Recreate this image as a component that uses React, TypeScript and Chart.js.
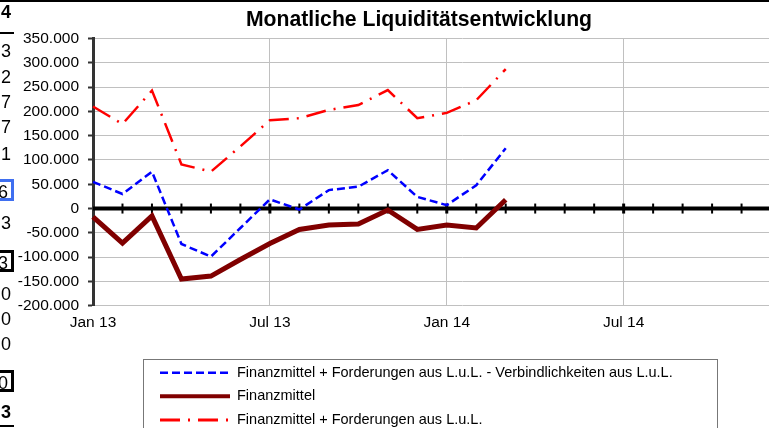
import React, { useEffect, useRef } from 'react';
import { Chart, registerables } from 'chart.js';

Chart.register(...registerables);

const FONT = '"Liberation Sans", Arial, Helvetica, sans-serif';

const TITLE = 'Monatliche Liquiditätsentwicklung';

const months = [
  'Jan 13', 'Feb 13', 'Mrz 13', 'Apr 13', 'Mai 13', 'Jun 13',
  'Jul 13', 'Aug 13', 'Sep 13', 'Okt 13', 'Nov 13', 'Dez 13',
  'Jan 14', 'Feb 14', 'Mrz 14', 'Apr 14', 'Mai 14', 'Jun 14',
  'Jul 14', 'Aug 14', 'Sep 14', 'Okt 14', 'Nov 14', 'Dez 14',
  'Jan 15', 'Feb 15',
];

const seriesLabels = [
  'Finanzmittel + Forderungen aus L.u.L. - Verbindlichkeiten aus L.u.L.',
  'Finanzmittel',
  'Finanzmittel + Forderungen aus L.u.L.',
];

const nettoValues = [55000, 30000, 76000, -73000, -99000, -40000, 19000, -2000, 38000, 45000, 79000, 24000, 7000, 48000, 124000];
const finanzValues = [-17000, -71000, -15000, -145000, -139000, -105000, -72000, -43000, -34000, -32000, -3000, -43000, -34000, -40000, 18000];
const forderValues = [210000, 174000, 243000, 91000, 76000, 128000, 182000, 186000, 203000, 213000, 244000, 186000, 197000, 223000, 287000];

const yMin = -200000;
const yMax = 350000;
const yStep = 50000;

const sideDigits = [
  { t: '4', y: 13, bold: true },
  { t: '3', y: 52 },
  { t: '2', y: 78 },
  { t: '7', y: 103 },
  { t: '7', y: 128 },
  { t: '1', y: 155 },
  { t: '6', y: 190, box: '#3f6ff0' },
  { t: '3', y: 224 },
  { t: '3', y: 261, box: '#000' },
  { t: '0', y: 295 },
  { t: '0', y: 320 },
  { t: '0', y: 345 },
  { t: '0', y: 381, box: '#000' },
  { t: '3', y: 413, bold: true },
];

const fmt = (v: number) => {
  const n = Math.round(Number(v));
  const s = Math.abs(n).toString().replace(/\B(?=(\d{3})+(?!\d))/g, '.');
  return (n < 0 ? '-' : '') + s;
};

const zeroAxisPlugin = {
  id: 'zeroAxis',
  beforeDatasetsDraw(chart: any) {
    const { ctx, chartArea, scales } = chart;
    const y0 = scales.y.getPixelForValue(0);
    ctx.save();
    ctx.strokeStyle = '#000';
    ctx.lineWidth = 4;
    ctx.beginPath();
    ctx.moveTo(chartArea.left, y0);
    ctx.lineTo(chartArea.right, y0);
    ctx.stroke();
    const n = chart.data.labels.length;
    for (let i = 1; i < n; i++) {
      const px = scales.x.getPixelForValue(i);
      ctx.lineWidth = i % 6 === 0 ? 3 : 2;
      ctx.beginPath();
      ctx.moveTo(px, y0 - 5);
      ctx.lineTo(px, y0 + 5);
      ctx.stroke();
    }
    ctx.restore();
  },
};

const boxLegendPlugin = {
  id: 'boxLegend',
  afterDraw(chart: any) {
    const { ctx, chartArea } = chart;
    const ds = chart.data.datasets;
    ctx.save();
    ctx.font = `14.5px ${FONT}`;
    const textW = Math.max(...ds.map((d: any) => ctx.measureText(d.label).width));
    const left = chartArea.left + 50;
    const top = chartArea.bottom + 53.5;
    const rowH = 23.6;
    const padL = 17;
    const lineLen = 70;
    const gap = 7;
    const width = padL + lineLen + gap + textW + 44;
    const height = rowH * ds.length + 12;
    ctx.strokeStyle = '#777';
    ctx.lineWidth = 1;
    ctx.strokeRect(Math.round(left) + 0.5, Math.round(top) + 0.5, Math.round(width), Math.round(height));
    ds.forEach((d: any, i: number) => {
      const cy = top + 13.5 + i * rowH;
      ctx.save();
      ctx.strokeStyle = d.borderColor;
      ctx.lineWidth = d.legendWidth || d.borderWidth;
      ctx.setLineDash(d.borderDash || []);
      ctx.lineCap = 'butt';
      ctx.beginPath();
      ctx.moveTo(left + padL, cy);
      ctx.lineTo(left + padL + lineLen, cy);
      ctx.stroke();
      ctx.restore();
      ctx.fillStyle = '#000';
      ctx.textBaseline = 'middle';
      ctx.textAlign = 'left';
      ctx.fillText(d.label, left + padL + lineLen + gap, cy);
    });
    ctx.restore();
  },
};

export default function App() {
  const canvasRef = useRef<HTMLCanvasElement | null>(null);

  useEffect(() => {
    if (!canvasRef.current) return;
    const chart = new Chart(canvasRef.current, {
      type: 'line',
      data: {
        labels: months,
        datasets: [
          {
            label: seriesLabels[0],
            data: nettoValues,
            borderColor: '#0000ff',
            borderWidth: 2.5,
            borderDash: [8, 4],
            pointRadius: 0,
            fill: false,
            tension: 0,
          },
          {
            label: seriesLabels[1],
            data: finanzValues,
            borderColor: '#800000',
            borderWidth: 5,
            legendWidth: 4,
            pointRadius: 0,
            fill: false,
            tension: 0,
          } as any,
          {
            label: seriesLabels[2],
            data: forderValues,
            borderColor: '#ff0000',
            borderWidth: 2.5,
            legendWidth: 3,
            borderDash: [20, 8, 2, 8],
            pointRadius: 0,
            fill: false,
            tension: 0,
          } as any,
        ],
      },
      options: {
        responsive: false,
        animation: false,
        layout: { padding: { left: 0, right: 0, top: 0, bottom: 114.3 } },
        plugins: {
          legend: { display: false },
          tooltip: { enabled: false },
          title: {
            display: true,
            text: TITLE,
            color: '#000',
            font: { family: FONT, size: 21.2, weight: 'bold', lineHeight: 1.2 },
            padding: { top: 7.3, bottom: 5.8 },
          },
        },
        scales: {
          x: {
            type: 'category',
            offset: false,
            border: { display: false },
            grid: {
              color: (c: any) => (c.index % 6 === 0 ? '#c0c0c0' : 'rgba(0,0,0,0)'),
              lineWidth: 1,
              drawTicks: false,
            },
            ticks: {
              autoSkip: false,
              maxRotation: 0,
              padding: 8,
              color: '#000',
              font: { family: FONT, size: 15.5 },
              callback: (_v: any, i: number) => (i % 6 === 0 ? months[i] : ''),
            },
            afterFit: (s: any) => { s.height = 30; },
          },
          y: {
            min: yMin,
            max: yMax,
            border: { color: '#333', width: 3 },
            grid: { color: '#c0c0c0', lineWidth: 1, tickColor: '#333', tickLength: 5, tickWidth: 2 },
            ticks: {
              stepSize: yStep,
              padding: 9,
              color: '#000',
              font: { family: FONT, size: 15.5 },
              callback: (v: any) => fmt(v),
            },
            afterFit: (s: any) => { s.width = 93; },
          },
        },
      },
      plugins: [zeroAxisPlugin, boxLegendPlugin],
    } as any);
    return () => chart.destroy();
  }, []);

  return (
    <div style={{ position: 'fixed', left: 0, top: 0, width: 769, height: 428, overflow: 'hidden', background: '#fff' }}>
      <canvas ref={canvasRef} width={838} height={450} style={{ position: 'absolute', left: 0, top: 0 }} />
      <div style={{ position: 'absolute', left: 0, top: 0, width: 769, height: 2, background: '#000' }} />
      <div style={{ position: 'absolute', left: 0, top: 32, width: 14, height: 2, background: '#000' }} />
      <div style={{ position: 'absolute', left: 0, top: 425, width: 14, height: 2, background: '#000' }} />
      {sideDigits.map((d, i) => (
        <div
          key={i}
          style={{
            position: 'absolute',
            left: -4,
            top: d.y - 11,
            width: 18,
            height: 22,
            lineHeight: '22px',
            textAlign: 'right',
            font: `${d.bold ? 'bold ' : ''}18px ${FONT}`,
            color: '#000',
            boxSizing: 'border-box',
            paddingRight: 3,
            border: d.box ? `3px solid ${d.box}` : 'none',
            borderLeft: 'none',
          }}
        >
          {d.t}
        </div>
      ))}
    </div>
  );
}
